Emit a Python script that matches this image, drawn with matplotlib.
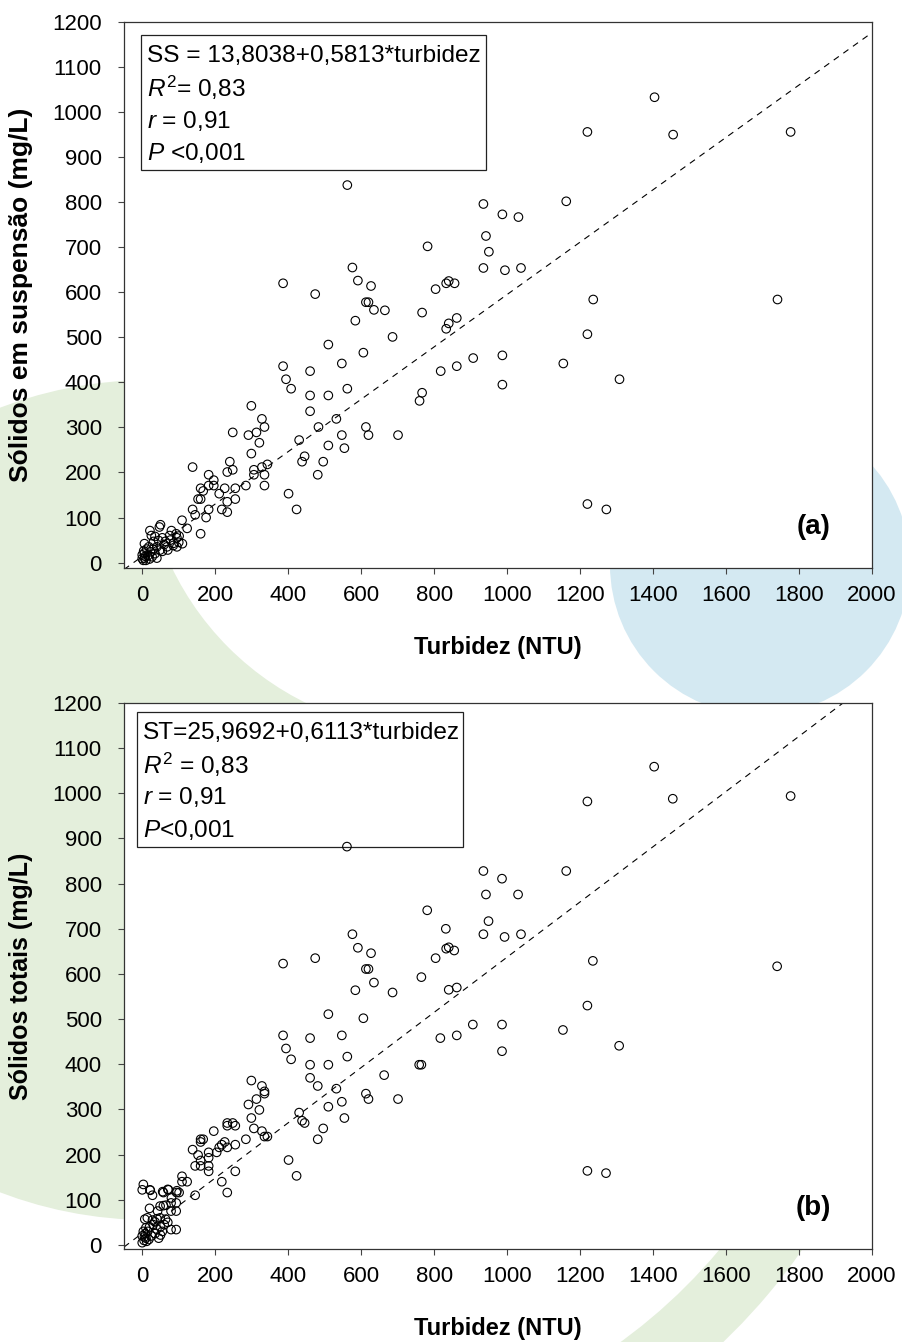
import matplotlib
matplotlib.use("Agg")
import matplotlib.pyplot as plt
from matplotlib.patches import Circle, Rectangle, Wedge
import numpy as np

plt.rcParams['font.family'] = ['Liberation Sans', 'DejaVu Sans']
plt.rcParams['mathtext.fontset'] = 'custom'
plt.rcParams['mathtext.rm'] = 'Liberation Sans'
plt.rcParams['mathtext.it'] = 'Liberation Sans:italic'
plt.rcParams['lines.scale_dashes'] = False

# ---------------- data: panel (a) turbidez (NTU) vs sólidos em suspensão (mg/L)
turb_a = [1404, 1220, 1455, 1777, 1162, 935, 987, 1031, 782, 942, 950, 935, 994, 1038,
          804, 833, 840, 856, 665, 767, 1236, 1741, 686, 862, 840, 833, 1220, 907, 987,
          862, 818, 1154, 987, 1308, 767, 760, 701, 1220, 1272,
          562, 576, 591, 627, 386, 474, 613, 620, 635, 584, 510, 606, 547, 386, 460, 394,
          408, 562, 460, 510, 460, 299, 328, 335, 248, 291, 313, 321, 299, 483, 532, 613,
          620, 547, 510, 554, 430, 445, 438, 496, 481, 401, 423, 343, 328, 306, 306, 335,
          335, 284, 240, 248, 233, 255, 255, 233, 218, 233, 138, 182, 196, 196, 167, 182,
          211, 226, 160, 153, 160, 138, 182, 145, 175, 160, 123, 109, 101,
          21, 47, 50, 80, 93, 6, 31, 45, 63, 77, 86, 95, 68, 40, 18, 4, 0, 6, 22, 49, 27,
          6, 0, 10, 15, 35, 55, 60, 30, 12, 3, 20, 8, 40, 70, 85, 100, 110, 95, 75, 55, 35, 25]
ss_a = [1033, 956, 950, 956, 802, 796, 773, 767, 702, 725, 690, 654, 649, 654,
        607, 620, 625, 620, 560, 555, 584, 584, 501, 543, 531, 519, 507, 454, 460,
        436, 425, 442, 395, 407, 377, 359, 283, 130, 118,
        838, 655, 626, 614, 620, 596, 578, 578, 561, 537, 484, 466, 442, 436, 425, 407,
        386, 386, 371, 371, 336, 348, 319, 301, 289, 283, 289, 266, 242, 301, 319, 301,
        283, 283, 260, 254, 272, 236, 224, 224, 195, 153, 118, 218, 212, 206, 195, 195,
        171, 171, 224, 206, 201, 165, 141, 112, 118, 135, 212, 195, 183, 171, 159, 171,
        153, 165, 165, 141, 141, 118, 118, 106, 100, 64, 76, 94, 59,
        71, 79, 84, 71, 64, 42, 47, 49, 47, 50, 43, 35, 35, 35, 35, 26, 17, 21, 24, 28, 13,
        10, 9, 5, 15, 20, 25, 40, 30, 30, 5, 8, 14, 10, 28, 38, 45, 42, 55, 60, 55, 58, 60]

# ---------------- data: panel (b) turbidez (NTU) vs sólidos totais (mg/L)
turb_b = [1403, 1220, 1454, 1777, 1162, 935, 986, 942, 1030, 781, 832, 949, 935, 993, 1038,
          833, 840, 855, 804, 765, 686, 1235, 1740, 1220, 840, 862, 906, 986, 817, 862, 1153,
          986, 1307, 759, 765, 663, 701, 1220, 1271,
          561, 576, 591, 627, 386, 474, 613, 620, 635, 584, 510, 606, 386, 394, 408, 460, 547,
          562, 460, 510, 460, 481, 532, 613, 620, 547, 510, 554, 430, 438, 445, 496, 481, 401,
          423, 299, 328, 335, 335, 291, 313, 321, 299, 306, 328, 335, 343, 284, 255, 233, 226,
          255, 233, 233, 255, 248, 196, 138, 160, 160, 167, 182, 182, 153, 160, 145, 160, 182,
          182, 204, 211, 218, 233, 218, 145, 109, 123, 109, 101, 94, 72, 58, 28, 21, 0, 3, 93,
          79, 93, 79, 58, 20, 42, 64, 49, 35, 93, 79, 14, 7, 49, 65, 80, 22, 56, 70, 95,
          5, 10, 0, 8, 15, 20, 30, 40, 50, 55, 25, 35, 45, 12, 3, 0, 18, 6, 28, 40, 60, 70, 10, 50]
st_b = [1059, 982, 988, 994, 828, 828, 811, 776, 776, 741, 700, 717, 688, 682, 688,
        656, 659, 652, 635, 593, 559, 629, 617, 530, 565, 570, 488, 488, 458, 464, 476,
        429, 441, 399, 399, 376, 323, 164, 159,
        882, 688, 658, 646, 623, 635, 611, 611, 581, 564, 511, 502, 464, 435, 411, 458, 464,
        417, 399, 399, 370, 352, 346, 335, 323, 317, 306, 281, 293, 275, 270, 258, 234, 188,
        153, 364, 352, 340, 335, 311, 323, 299, 281, 258, 252, 240, 240, 234, 222, 216, 228,
        163, 264, 270, 264, 270, 252, 211, 234, 228, 234, 205, 193, 199, 187, 175, 175, 175,
        163, 205, 216, 140, 116, 222, 110, 152, 140, 140, 116, 116, 122, 116, 110, 122, 122, 134, 93,
        93, 75, 75, 87, 81, 75, 57, 60, 51, 34, 34, 60, 57, 86, 88, 104, 121, 118, 123, 120,
        10, 15, 20, 25, 30, 40, 45, 35, 40, 30, 20, 25, 15, 8, 30, 5, 12, 18, 55, 58, 45, 50, 38, 22]

# regression coefficients (intercept, slope)
coef_a = (13.8038, 0.5813)
coef_b = (25.9692, 0.6113)

box_a = ["SS = 13,8038+0,5813*turbidez", r"$\mathit{R}^2$= 0,83", r"$\mathit{r}$ = 0,91", r"$\mathit{P}$ <0,001"]
box_b = ["ST=25,9692+0,6113*turbidez", r"$\mathit{R}^2$ = 0,83", r"$\mathit{r}$ = 0,91", r"$\mathit{P}$<0,001"]

xticks = list(range(0, 2001, 200))
yticks = list(range(0, 1201, 100))

W, H = 903, 1342
fig = plt.figure(figsize=(W / 100, H / 100), dpi=100)

# background watermark (pixel coordinates)
bg = fig.add_axes([0, 0, 1, 1], zorder=-5)
bg.set_xlim(0, W)
bg.set_ylim(H, 0)
bg.axis('off')
green = '#e4efdc'
blue = '#d4e9f2'
bg.add_patch(Circle((150, 800), 420, color=green, lw=0))
bg.add_patch(Circle((435, 441), 292, color='white', lw=0))
stripe = Wedge((300, 900), 612, -80, 80, width=66, color=green, lw=0)
bg.add_patch(stripe)
stripe.set_clip_path(Rectangle((0, 1249), W, H - 1249, transform=bg.transData))
bg.add_patch(Circle((760, 565), 150, color=blue, lw=0))


def px_axes(l, t, r, b):
    return [l / W, 1 - b / H, (r - l) / W, (b - t) / H]


def lines_y(bb, bt):
    h = bt - bb
    return [bt - h * (0.155 + 0.24 * i) for i in range(4)]


def panel(rect, x, y, coef, lines, box, label, ylabel, ylsize, ymin):
    ax = fig.add_axes(px_axes(*rect))
    ax.set_facecolor('white')
    ax.scatter(x, y, s=38, facecolors='none', edgecolors='black', linewidths=0.8, zorder=6, clip_on=False)
    xs = np.array([-50, 2000])
    ax.plot(xs, coef[0] + coef[1] * xs, color='black', lw=0.8, dashes=(4.5, 4), zorder=2)
    ax.set_xlim(-50, 2000)
    ax.set_ylim(ymin, 1200)
    ax.set_xticks(xticks)
    ax.set_yticks(yticks)
    ax.tick_params(axis='both', labelsize=16, length=4, width=0.8, color='#444444')
    ax.tick_params(axis='y', pad=12)
    ax.tick_params(axis='x', pad=8)
    for s in ax.spines.values():
        s.set_linewidth(0.9)
        s.set_color('#333333')
    ax.set_xlabel('Turbidez (NTU)', fontsize=17, fontweight='bold', labelpad=22)
    ax.set_ylabel(ylabel, fontsize=ylsize, fontweight='bold', labelpad=14)
    bl, bb, br, bt = box
    ax.add_patch(Rectangle((bl, bb), br - bl, bt - bb, transform=ax.transAxes, fill=True,
                           facecolor='white', edgecolor='#222222', lw=0.9, zorder=4))
    for txt, yy in zip(lines, lines_y(bb, bt)):
        ax.text(bl + 0.008, yy, txt, transform=ax.transAxes, fontsize=17.6, va='center', ha='left', zorder=5)
    ax.text(0.945, 0.075, label, transform=ax.transAxes, fontsize=20, fontweight='bold',
            ha='right', va='center')
    return ax


panel((124, 22, 872, 568), turb_a, ss_a, coef_a, box_a, (0.0227, 0.729, 0.484, 0.976),
      '(a)', 'Sólidos em suspensão (mg/L)', 19, -12)
panel((124, 703, 872, 1249), turb_b, st_b, coef_b, box_b, (0.017, 0.737, 0.453, 0.984),
      '(b)', 'Sólidos totais (mg/L)', 18, -9)

fig.savefig('out.png', dpi=100)
